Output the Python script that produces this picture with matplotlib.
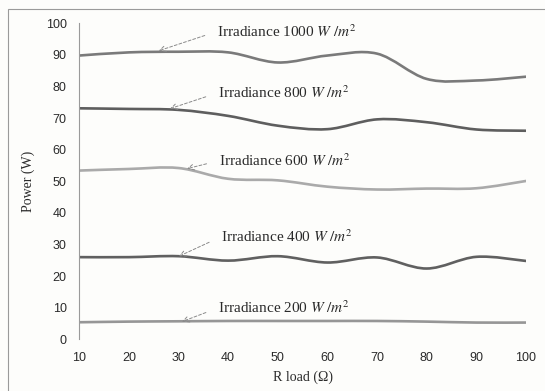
import matplotlib
matplotlib.use("Agg")
import matplotlib.pyplot as plt
from matplotlib.path import Path
from matplotlib.patches import PathPatch, Rectangle

# R load values (ohm) and measured power (W) per irradiance level
r_load = [10, 20, 30, 40, 50, 60, 70, 80, 90, 100]
p_1000 = [89.8, 90.8, 91.0, 90.8, 87.6, 89.8, 90.4, 82.4, 81.9, 83.1]
p_800 = [73.1, 72.9, 72.6, 70.7, 67.6, 66.5, 69.6, 68.7, 66.4, 66.0]
p_600 = [53.4, 53.9, 54.2, 50.8, 50.3, 48.3, 47.4, 47.7, 47.8, 50.1]
p_400 = [26.0, 26.0, 26.3, 24.9, 26.3, 24.3, 25.9, 22.4, 26.1, 24.8]
p_200 = [5.4, 5.6, 5.7, 5.8, 5.8, 5.8, 5.8, 5.6, 5.3, 5.3]

series = [p_1000, p_800, p_600, p_400, p_200]
colors = ['#7a7a7a', '#5e5e5e', '#aaaaaa', '#606060', '#969696']
labels = ['1000', '800', '600', '400', '200']
# arrow tip (on curve) and text anchor, data coords
tips = [(26.0, 91.3), (28.3, 73.0), (31.7, 54.0), (30.1, 26.3), (30.7, 5.6)]
text_pos = [(37.7, 97.4), (37.9, 78.0), (38.1, 56.5), (38.5, 32.4), (37.9, 9.9)]

plt.rcParams['mathtext.fontset'] = 'stix'


def smooth_path(xs, ys):
    """Excel-style smoothed line: Catmull-Rom as cubic Bezier segments"""
    pts = list(zip(xs, ys))
    verts = [pts[0]]
    codes = [Path.MOVETO]
    n = len(pts)
    for i in range(n - 1):
        p0 = pts[i - 1] if i > 0 else pts[i]
        p1 = pts[i]
        p2 = pts[i + 1]
        p3 = pts[i + 2] if i + 2 < n else pts[i + 1]
        c1 = (p1[0] + (p2[0] - p0[0]) / 6, p1[1] + (p2[1] - p0[1]) / 6)
        c2 = (p2[0] - (p3[0] - p1[0]) / 6, p2[1] - (p3[1] - p1[1]) / 6)
        verts += [c1, c2, p2]
        codes += [Path.CURVE4] * 3
    return Path(verts, codes)


fig = plt.figure(figsize=(5.45, 3.91), dpi=100, facecolor='#fdfdfb')
ax = fig.add_axes([0.1455, 0.1322, 0.8195, 0.8082])
ax.set_facecolor('none')

# outer chart border (left and top visible)
fig.patches.append(Rectangle((8 / 545, -0.1), 1.2, 1 - 9 / 391 + 0.1,
                             transform=fig.transFigure, fill=False,
                             edgecolor='#9a9a9a', lw=0.8))

for ys, c in zip(series, colors):
    ax.add_patch(PathPatch(smooth_path(r_load, ys), fill=False,
                           edgecolor=c, lw=1.9, capstyle='round'))

for lab, tip, tp in zip(labels, tips, text_pos):
    ax.annotate('Irradiance ' + lab + r' $W\ /m^2$', xy=tip, xytext=tp,
                ha='left', va='center', fontsize=11, family='Liberation Serif',
                color='#2a2a2a',
                arrowprops=dict(arrowstyle='->', linestyle=(0, (3, 2)),
                                color='#8a8a8a', lw=0.7, relpos=(0, 0.5),
                                shrinkA=7, shrinkB=0))

ax.set_xlim(10, 100)
ax.set_ylim(0, 100)
ax.set_xticks(r_load)
ax.set_yticks(range(0, 101, 10))
for s in ['top', 'right', 'bottom']:
    ax.spines[s].set_visible(False)
ax.spines['left'].set_color('#9a9a9a')
ax.spines['left'].set_linewidth(0.8)
ax.tick_params(length=0, labelsize=9, labelcolor='#2a2a2a')
ax.tick_params(axis='y', pad=9)
ax.tick_params(axis='x', pad=9)
for t in ax.get_xticklabels() + ax.get_yticklabels():
    t.set_family('Liberation Sans')

ax.set_xlabel('R load (\u03a9)', family='Liberation Serif', fontsize=10,
              color='#2a2a2a', labelpad=5)
ax.set_ylabel('Power (W)', family='Liberation Serif', fontsize=10,
              color='#2a2a2a', labelpad=8)

fig.savefig('out.png', dpi=100, facecolor=fig.get_facecolor())
